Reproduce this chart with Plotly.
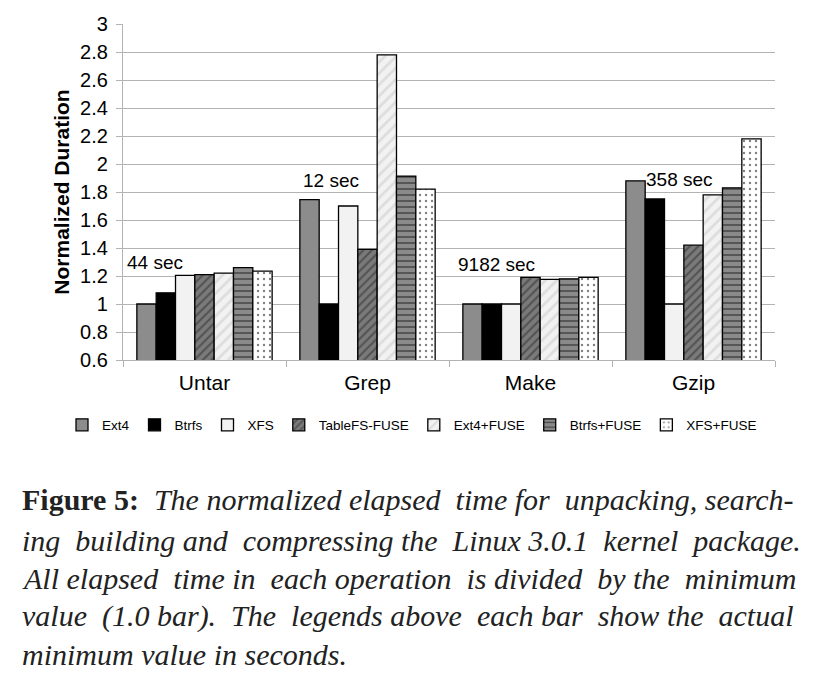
import plotly.graph_objects as go

categories = ["Untar", "Grep", "Make", "Gzip"]
series_names = ["Ext4", "Btrfs", "XFS", "TableFS-FUSE", "Ext4+FUSE", "Btrfs+FUSE", "XFS+FUSE"]
ext4 = [1.00, 1.745, 1.00, 1.88]
btrfs = [1.08, 1.00, 1.00, 1.75]
xfs = [1.205, 1.70, 1.00, 1.00]
tablefs = [1.21, 1.39, 1.19, 1.42]
ext4_fuse = [1.22, 2.78, 1.176, 1.78]
btrfs_fuse = [1.26, 1.914, 1.18, 1.83]
xfs_fuse = [1.235, 1.82, 1.19, 2.18]
min_labels = ["44 sec", "12 sec", "9182 sec", "358 sec"]
label_heights = [1.30, 1.879, 1.279, 1.886]
label_shift_px = [-50, -37, -34, -14]

values = [ext4, btrfs, xfs, tablefs, ext4_fuse, btrfs_fuse, xfs_fuse]
styles = [
    dict(color="#8c8c8c", pattern=dict(shape="")),
    dict(color="#000000", pattern=dict(shape="")),
    dict(color="#f2f2f2", pattern=dict(shape="")),
    dict(color="#7a7a7a", pattern=dict(shape="/", fgcolor="#2a2a2a", bgcolor="#7a7a7a", size=6, solidity=0.35)),
    dict(color="#f0f0f0", pattern=dict(shape="/", fgcolor="#c8c8c8", bgcolor="#f2f2f2", size=8, solidity=0.35)),
    dict(color="#8a8a8a", pattern=dict(shape="-", fgcolor="#000000", bgcolor="#8a8a8a", size=6, solidity=0.25)),
    dict(color="#ffffff", pattern=dict(shape=".", fgcolor="#000000", bgcolor="#ffffff", size=6, solidity=0.12)),
]

fig = go.Figure()
for name, vals, st in zip(series_names, values, styles):
    fig.add_trace(go.Bar(
        x=categories, y=vals, name=name,
        marker=dict(color=st["color"], pattern=st["pattern"],
                    line=dict(color="#000000", width=1.3)),
    ))

for cat, lab, h, off in zip(categories, min_labels, label_heights, label_shift_px):
    fig.add_annotation(x=cat, y=h, text=lab, showarrow=False, xref="x", yref="y",
                       xshift=off, font=dict(size=19, color="#000000",
                                             family="Liberation Sans, Arial"))

S2 = "  "
caption_lines = [
    "<b>Figure 5:</b>  <i>The normalized elapsed" + S2 + "time for" + S2 + "unpacking, search-</i>",
    "<i>ing" + S2 + "building and" + S2 + "compressing the" + S2 + "Linux 3.0.1" + S2 + "kernel" + S2 + "package.</i>",
    "<i>All elapsed" + S2 + "time in" + S2 + "each operation" + S2 + "is divided" + S2 + "by the" + S2 + "minimum</i>",
    "<i>value" + S2 + "(1.0 bar).  The" + S2 + "legends above" + S2 + "each bar" + S2 + "show the" + S2 + "actual</i>",
    "<i>minimum value in seconds.</i>",
]
caption_y = [499, 540, 578, 616, 654]

pl, pr, pt, pb = 123, 61, 24, 325
pw, ph = 836 - pl - pr, 685 - pt - pb
for line, yy in zip(caption_lines, caption_y):
    fig.add_annotation(x=(20 - pl) / pw, y=(685 - yy - pb) / ph, xref="paper", yref="paper",
                       text=line, showarrow=False, xanchor="left", yanchor="middle",
                       font=dict(size=30, color="#222222", family="Liberation Serif, Times New Roman"))

fig.update_layout(
    width=836, height=685,
    margin=dict(l=pl, r=pr, t=pt, b=pb),
    paper_bgcolor="white", plot_bgcolor="white",
    barmode="group", bargap=0.17, bargroupgap=0,
    font=dict(family="Liberation Sans, Arial", size=20, color="#000000"),
    showlegend=True,
    legend=dict(orientation="h", x=(62 - pl) / pw, xanchor="left", y=(360 - 425) / ph, yanchor="middle",
                font=dict(size=13.5), itemwidth=30, tracegroupgap=0,
                bgcolor="rgba(0,0,0,0)"),
)
fig.update_yaxes(range=[0.6, 3.0], dtick=0.2, tickformat="~g",
                 showgrid=True, gridcolor="#b3b3b3", gridwidth=1.3,
                 showline=True, linecolor="#b3b3b3", linewidth=1.3,
                 ticks="outside", ticklen=6, tickcolor="#b3b3b3",
                 tickfont=dict(size=20), ticklabelstandoff=4,
                 title=dict(text="<b>Normalized Duration</b>", font=dict(size=21), standoff=4),
                 zeroline=False)
fig.update_xaxes(showline=True, linecolor="#b3b3b3", linewidth=1.3,
                 ticks="outside", tickson="boundaries", ticklen=6, tickcolor="#b3b3b3",
                 tickfont=dict(size=21), ticklabelstandoff=4, showgrid=False)

fig.write_html("out.html")
